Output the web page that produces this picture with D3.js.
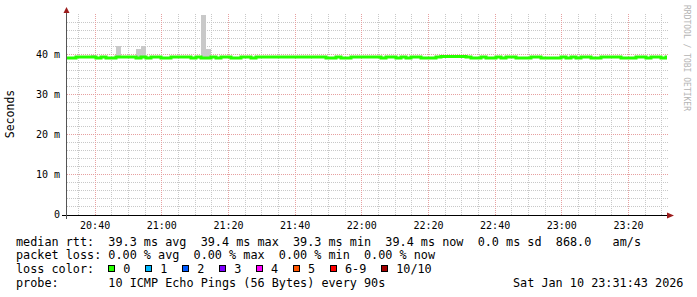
<!DOCTYPE html>
<html>
<head>
<meta charset="utf-8">
<script src="https://cdn.jsdelivr.net/npm/d3@7"></script>
<style>
body { margin: 0; background: #fff; }
text { font-family: "DejaVu Sans Mono", monospace; }
</style>
</head>
<body>
<svg id="chart" width="697" height="297"></svg>
<script>
// time window of the graph
var startTime = new Date(2026, 0, 10, 20, 31, 43)
var endTime = new Date(2026, 0, 10, 23, 31, 43)
var stepStart = new Date(2026, 0, 10, 20, 31, 25)
var stepSecs = 90

// median rtt per 90s step (ms)
var medianRtt = [
  39.1, 39.1, 39.4, 39.4, 39.4, 39.4, 39.1, 39.4, 39.1, 39.1,
  39.4, 39.4, 39.4, 39.4, 39.1, 39.4, 39.1, 39.4, 39.4, 39.1,
  39.1, 39.4, 39.4, 39.4, 39.4, 39.1, 39.4, 39.1, 39.1, 39.4,
  39.1, 39.4, 39.4, 39.1, 39.1, 39.4, 39.4, 39.1, 39.4, 39.4,
  39.4, 39.4, 39.4, 39.4, 39.4, 39.4, 39.4, 39.4, 39.4, 39.4,
  39.4, 39.4, 39.1, 39.1, 39.4, 39.1, 39.1, 39.4, 39.4, 39.4,
  39.4, 39.4, 39.4, 39.1, 39.4, 39.4, 39.1, 39.4, 39.1, 39.4,
  39.4, 39.1, 39.1, 39.1, 39.4, 39.5, 39.5, 39.5, 39.5, 39.5,
  39.4, 39.1, 39.1, 39.4, 39.1, 39.1, 39.4, 39.1, 39.4, 39.4,
  39.1, 39.1, 39.1, 39.4, 39.4, 39.1, 39.1, 39.1, 39.1, 39.4,
  39.1, 39.4, 39.1, 39.4, 39.4, 39.1, 39.1, 39.4, 39.4, 39.4,
  39.4, 39.1, 39.1, 39.1, 39.4, 39.4, 39.1, 39.4, 39.4, 39.1,
  39.4
]

// smoke (max ping) where it shows above the median
var smokeSteps = [5, 10, 14, 15, 27, 28, 75, 77]
var smokeTops = [39.9, 42.1, 41.5, 42.1, 50.0, 41.4, 39.8, 39.8]

var yTicks = [0, 10, 20, 30, 40]
var yTickLabels = ["0", "10 m", "20 m", "30 m", "40 m"]

var lossLabels = ["0", "1", "2", "3", "4", "5", "6-9", "10/10"]
var lossColors = ["#26ff00", "#00b8ff", "#0059ff", "#7e00ff", "#ff00ff", "#ff5500", "#ff0000", "#a10000"]

var legendRows = [
  "median rtt:  39.3 ms avg  39.4 ms max  39.3 ms min  39.4 ms now  0.0 ms sd  868.0   am/s",
  "packet loss: 0.00 % avg  0.00 % max  0.00 % min  0.00 % now",
  "loss color:",
  "probe:       10 ICMP Echo Pings (56 Bytes) every 90s"
]
var dateStamp = "Sat Jan 10 23:31:43 2026"

var svg = d3.select('#chart')
var x = d3.scaleTime().domain([startTime, endTime]).range([67, 667])
var y = d3.scaleLinear().domain([0, 50]).range([214.5, 14.5])

function stepTime(k) {
    return new Date(stepStart.getTime() + k * stepSecs * 1000)
}

// grid
var grid = svg.append('g')
var minorY = d3.range(2, 50, 2).filter(d => d % 10 != 0)
var majorY = [10, 20, 30, 40]
grid.selectAll('.minor-y').data(minorY).enter().append('line')
    .attr('x1', 67).attr('x2', 668)
    .attr('y1', d => y(d)).attr('y2', d => y(d))
    .attr('stroke', '#c8c8c8').attr('stroke-dasharray', '1,1')
var minorX = d3.timeMinute.every(5).range(startTime, endTime).filter(d => d.getMinutes() % 20 != 0)
var majorX = d3.timeMinute.every(20).range(startTime, endTime)
grid.selectAll('.minor-x').data(minorX).enter().append('line')
    .attr('x1', d => Math.round(x(d)) + 0.5).attr('x2', d => Math.round(x(d)) + 0.5)
    .attr('y1', 14).attr('y2', 215)
    .attr('stroke', '#c8c8c8').attr('stroke-dasharray', '1,1')
grid.selectAll('.major-y').data(majorY).enter().append('line')
    .attr('x1', 67).attr('x2', 668)
    .attr('y1', d => y(d)).attr('y2', d => y(d))
    .attr('stroke', '#e6a0a0').attr('stroke-dasharray', '1,1')
grid.selectAll('.major-x').data(majorX).enter().append('line')
    .attr('x1', d => Math.round(x(d)) + 0.5).attr('x2', d => Math.round(x(d)) + 0.5)
    .attr('y1', 14).attr('y2', 215)
    .attr('stroke', '#e6a0a0').attr('stroke-dasharray', '1,1')

svg.append('clipPath').attr('id', 'plot').append('rect')
    .attr('x', 67).attr('y', 0).attr('width', 600).attr('height', 215)

// smoke
svg.append('g').attr('clip-path', 'url(#plot)')
    .selectAll('rect').data(smokeSteps).enter().append('rect')
    .attr('x', k => x(stepTime(k)))
    .attr('width', k => x(stepTime(k + 1)) - x(stepTime(k)))
    .attr('y', (k, i) => y(smokeTops[i]))
    .attr('height', (k, i) => y(medianRtt[k]) - y(smokeTops[i]))
    .attr('fill', '#c9c9c9')
    .attr('shape-rendering', 'crispEdges')

// median line
var pts = medianRtt.map((v, k) => ({ t: stepTime(k), v: v }))
pts.push({ t: stepTime(medianRtt.length), v: medianRtt[medianRtt.length - 1] })
var line = d3.line().x(d => x(d.t)).y(d => y(d.v)).curve(d3.curveStepAfter)
svg.append('path').datum(pts)
    .attr('clip-path', 'url(#plot)')
    .attr('d', line)
    .attr('fill', 'none')
    .attr('stroke', lossColors[0])
    .attr('stroke-width', 3)
    .attr('stroke-linejoin', 'miter')

// axes
svg.append('line').attr('x1', 62).attr('x2', 668).attr('y1', 215.5).attr('y2', 215.5)
    .attr('stroke', '#000')
svg.append('line').attr('x1', 66.5).attr('x2', 66.5).attr('y1', 219).attr('y2', 11)
    .attr('stroke', '#555')
svg.append('path').attr('d', 'M63.5,13 L66.5,7 L69.5,13 Z').attr('fill', '#9c1c1c')
svg.append('path').attr('d', 'M667,212.5 L674,215.5 L667,218.5 Z').attr('fill', '#9c1c1c')

var xAxis = svg.append('g').attr('transform', 'translate(0,215)')
    .call(d3.axisBottom(x).tickValues(majorX).tickFormat(d3.timeFormat('%H:%M')).tickSize(0).tickPadding(7))
xAxis.select('.domain').remove()
xAxis.selectAll('text').attr('font-family', '"DejaVu Sans Mono", monospace').attr('font-size', 10).attr('fill', '#000')

var yAxis = svg.append('g').attr('transform', 'translate(67,0)')
    .call(d3.axisLeft(y).tickValues(yTicks).tickFormat((d, i) => yTickLabels[i]).tickSize(0).tickPadding(7))
yAxis.select('.domain').remove()
yAxis.selectAll('text').attr('font-family', '"DejaVu Sans Mono", monospace').attr('font-size', 10).attr('fill', '#000')

svg.append('text')
    .attr('transform', 'translate(14,114) rotate(-90)')
    .attr('text-anchor', 'middle')
    .attr('font-size', 11.5)
    .text('Seconds')

svg.append('text')
    .attr('transform', 'translate(684,5) rotate(90)')
    .attr('font-size', 8)
    .attr('fill', '#b4b4b4')
    .text('RRDTOOL / TOBI OETIKER')

// legend
var rowY = [245.5, 259, 273, 286.5]
svg.selectAll('.legend').data(legendRows).enter().append('text')
    .attr('x', 16).attr('y', (d, i) => rowY[i])
    .attr('font-size', 11.8)
    .style('white-space', 'pre')
    .text(d => d)

var sqX = []
var pos = 108.3
lossLabels.forEach(function (l) {
    sqX.push(pos)
    pos += 36.95 + 7.12 * (l.length - 1)
})
var items = svg.selectAll('.loss').data(lossLabels).enter().append('g')
items.append('rect')
    .attr('x', (d, i) => Math.round(sqX[i]) + 0.5).attr('y', 265.5)
    .attr('width', 6).attr('height', 6)
    .attr('fill', (d, i) => lossColors[i])
    .attr('stroke', '#000')
items.append('text')
    .attr('x', (d, i) => sqX[i] + 15).attr('y', rowY[2])
    .attr('font-size', 11.8)
    .text(d => d)

svg.append('text').attr('x', 513).attr('y', rowY[3])
    .attr('font-size', 11.8)
    .text(dateStamp)
</script>
</body>
</html>
